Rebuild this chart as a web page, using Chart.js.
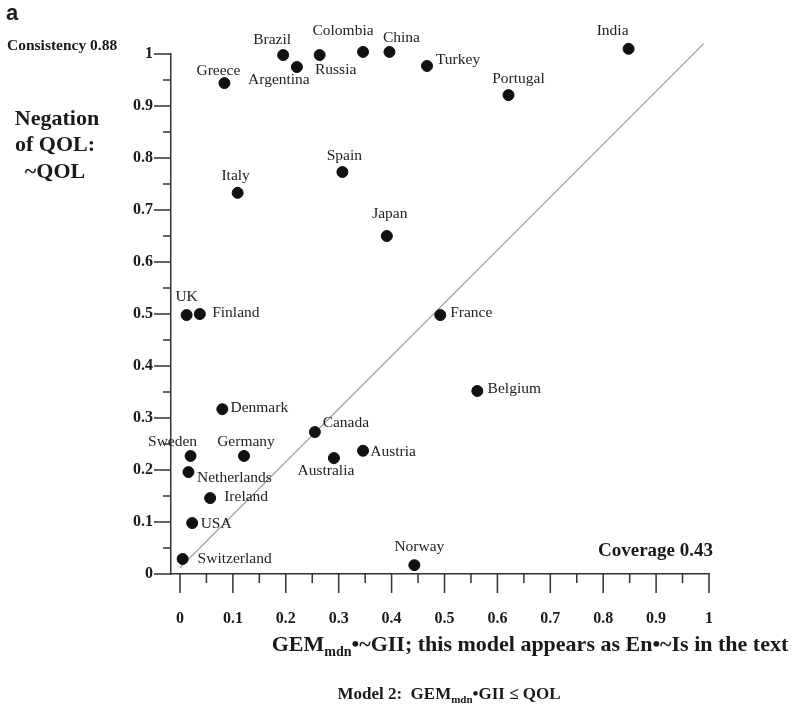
<!DOCTYPE html>
<html>
<head>
<meta charset="utf-8">
<script src="https://cdn.jsdelivr.net/npm/chart.js@4.4.1/dist/chart.umd.min.js"></script>
<style>
  html, body { margin: 0; padding: 0; background: #ffffff; }
  #wrap { position: relative; width: 797px; height: 708px; }
</style>
</head>
<body>
<div id="wrap"><canvas id="c" width="797" height="708"></canvas></div>
<script>
// ---------------- data ----------------
const countries = ['India','China','Colombia','Brazil','Russia','Argentina','Greece','Turkey','Portugal',
  'Spain','Italy','Japan','UK','Finland','France','Belgium','Denmark','Canada','Sweden','Germany',
  'Australia','Austria','Netherlands','Ireland','USA','Switzerland','Norway'];
const xValues = [0.848,0.396,0.346,0.195,0.264,0.221,0.084,0.467,0.621,
  0.307,0.109,0.391,0.0125,0.0375,0.492,0.562,0.080,0.255,0.020,0.121,
  0.291,0.346,0.016,0.057,0.023,0.005,0.443];
const yValues = [1.010,1.004,1.004,0.998,0.998,0.975,0.944,0.977,0.921,
  0.773,0.733,0.650,0.498,0.500,0.498,0.352,0.317,0.273,0.227,0.227,
  0.223,0.237,0.196,0.146,0.098,0.029,0.017];
// reference diagonal
const diagX = [0.0, 0.99];
const diagY = [0.012, 1.02];
// axis ticks
const xTickValues = [0,0.1,0.2,0.3,0.4,0.5,0.6,0.7,0.8,0.9,1];
const xTickLabels = ['0','0.1','0.2','0.3','0.4','0.5','0.6','0.7','0.8','0.9','1'];
const xMinorValues = [0.05,0.15,0.25,0.35,0.45,0.55,0.65,0.75,0.85,0.95];
const yTickValues = [0,0.1,0.2,0.3,0.4,0.5,0.6,0.7,0.8,0.9,1];
const yTickLabels = ['0','0.1','0.2','0.3','0.4','0.5','0.6','0.7','0.8','0.9','1'];
const yMinorValues = [0.05,0.15,0.25,0.35,0.45,0.55,0.65,0.75,0.85,0.95];

// label placement (pixel offsets of label centre from its point) — styling only
const labelOffsets = {
  India:[-16,-18], China:[12,-14], Colombia:[-20,-21], Brazil:[-11,-15], Russia:[16,15],
  Argentina:[-18,13], Greece:[-6,-12], Turkey:[31,-6], Portugal:[10,-16], Spain:[2,-16],
  Italy:[-2,-17], Japan:[3,-22], UK:[0,-18], Finland:[36,-1], France:[31,-2], Belgium:[37,-2],
  Denmark:[37,-1], Canada:[31,-9], Sweden:[-18,-14], Germany:[2,-14], Australia:[-8,13],
  Austria:[30,1], Netherlands:[46,6], Ireland:[36,-1], USA:[24,1], Switzerland:[52,0], Norway:[5,-18]
};

const SERIF = "'Liberation Serif', 'Times New Roman', serif";
const INK = '#1a1a1a';

const points = countries.map((c, i) => ({ x: xValues[i], y: yValues[i] }));
const diag = diagX.map((x, i) => ({ x: x, y: diagY[i] }));

// ------------- plugins ---------------
const axisTicks = {
  id: 'axisTicks',
  afterDraw(chart) {
    const ctx = chart.ctx, xs = chart.scales.x, ys = chart.scales.y, a = chart.chartArea;
    ctx.save();
    ctx.strokeStyle = '#333';
    ctx.lineWidth = 1.5;
    ctx.beginPath();
    yTickValues.forEach(v => { const p = ys.getPixelForValue(v); ctx.moveTo(a.left - 17, p); ctx.lineTo(a.left, p); });
    yMinorValues.forEach(v => { const p = ys.getPixelForValue(v); ctx.moveTo(a.left - 8, p); ctx.lineTo(a.left, p); });
    xTickValues.forEach(v => { const p = xs.getPixelForValue(v); ctx.moveTo(p, a.bottom); ctx.lineTo(p, a.bottom + 19); });
    xMinorValues.forEach(v => { const p = xs.getPixelForValue(v); ctx.moveTo(p, a.bottom); ctx.lineTo(p, a.bottom + 9); });
    ctx.stroke();
    ctx.restore();
  }
};

const pointLabels = {
  id: 'pointLabels',
  afterDatasetsDraw(chart) {
    const ctx = chart.ctx;
    const meta = chart.getDatasetMeta(0);
    ctx.save();
    ctx.font = '15.5px ' + SERIF;
    ctx.fillStyle = '#222';
    ctx.textAlign = 'center';
    ctx.textBaseline = 'middle';
    meta.data.forEach((el, i) => {
      const name = countries[i];
      const off = labelOffsets[name] || [0, -16];
      ctx.fillText(name, el.x + off[0], el.y + off[1]);
    });
    ctx.restore();
  }
};

function drawSubText(ctx, parts, cx, baseline, size) {
  // parts: [text, isSub]
  const subSize = Math.round(size * 0.62);
  let total = 0;
  parts.forEach(p => {
    ctx.font = 'bold ' + (p[1] ? subSize : size) + 'px ' + SERIF;
    total += ctx.measureText(p[0]).width;
  });
  let x = cx - total / 2;
  parts.forEach(p => {
    ctx.font = 'bold ' + (p[1] ? subSize : size) + 'px ' + SERIF;
    ctx.fillText(p[0], x, baseline + (p[1] ? size * 0.24 : 0));
    x += ctx.measureText(p[0]).width;
  });
}

const annotations = {
  id: 'annotations',
  afterDraw(chart) {
    const ctx = chart.ctx;
    ctx.save();
    ctx.fillStyle = INK;
    ctx.textBaseline = 'alphabetic';
    // panel letter
    ctx.font = "bold 22px 'Liberation Sans', Arial, sans-serif";
    ctx.textAlign = 'left';
    ctx.fillText('a', 6, 20);
    // consistency
    ctx.font = 'bold 15.5px ' + SERIF;
    ctx.fillText('Consistency 0.88', 7, 50);
    // y title
    ctx.font = 'bold 22px ' + SERIF;
    ctx.textAlign = 'center';
    ctx.fillText('Negation', 57, 125);
    ctx.fillText('of QOL:', 55, 151);
    ctx.fillText('~QOL', 55, 178);
    // coverage
    ctx.font = 'bold 19px ' + SERIF;
    ctx.textAlign = 'right';
    ctx.fillText('Coverage 0.43', 713, 556);
    // x title
    ctx.textAlign = 'left';
    drawSubText(ctx, [['GEM', false], ['mdn', true], ['\u2022~GII; this model appears as En\u2022~Is in the text', false]], 530, 651, 22);
    // subtitle
    drawSubText(ctx, [['Model 2:  GEM', false], ['mdn', true], ['\u2022GII \u2264 QOL', false]], 449, 699, 17);
    ctx.restore();
  }
};

// ------------- chart ---------------
new Chart(document.getElementById('c'), {
  type: 'scatter',
  data: {
    datasets: [
      {
        label: 'Countries',
        data: points,
        backgroundColor: '#111',
        borderColor: '#111',
        pointRadius: 5.5,
        pointHoverRadius: 5.5,
        order: 1
      },
      {
        type: 'line',
        label: 'diagonal',
        data: diag,
        borderColor: '#9a9a9a',
        borderWidth: 1.1,
        pointRadius: 0,
        showLine: true,
        fill: false,
        order: 2
      }
    ]
  },
  options: {
    responsive: false,
    animation: false,
    clip: false,
    layout: { padding: { top: 54, right: 88, left: 0, bottom: 0 } },
    plugins: { legend: { display: false }, tooltip: { enabled: false } },
    scales: {
      x: {
        type: 'linear',
        min: -0.017,
        max: 1,
        afterFit: s => { s.height = 134; },
        afterBuildTicks: s => { s.ticks = xTickValues.map(v => ({ value: v })); },
        grid: { display: true, drawOnChartArea: false, drawTicks: false },
        border: { display: true, color: '#333', width: 1.5 },
        ticks: {
          padding: 35,
          color: INK,
          font: { family: SERIF, size: 16, weight: 'bold' },
          maxRotation: 0,
          autoSkip: false,
          callback: (v, i) => xTickLabels[i]
        }
      },
      y: {
        type: 'linear',
        min: 0,
        max: 1,
        afterFit: s => { s.width = 171; },
        afterBuildTicks: s => { s.ticks = yTickValues.map(v => ({ value: v })); },
        grid: { display: true, drawOnChartArea: false, drawTicks: false },
        border: { display: true, color: '#333', width: 1.5 },
        ticks: {
          padding: 18,
          color: INK,
          font: { family: SERIF, size: 16, weight: 'bold' },
          autoSkip: false,
          callback: (v, i) => yTickLabels[i]
        }
      }
    }
  },
  plugins: [axisTicks, pointLabels, annotations]
});
</script>
</body>
</html>
